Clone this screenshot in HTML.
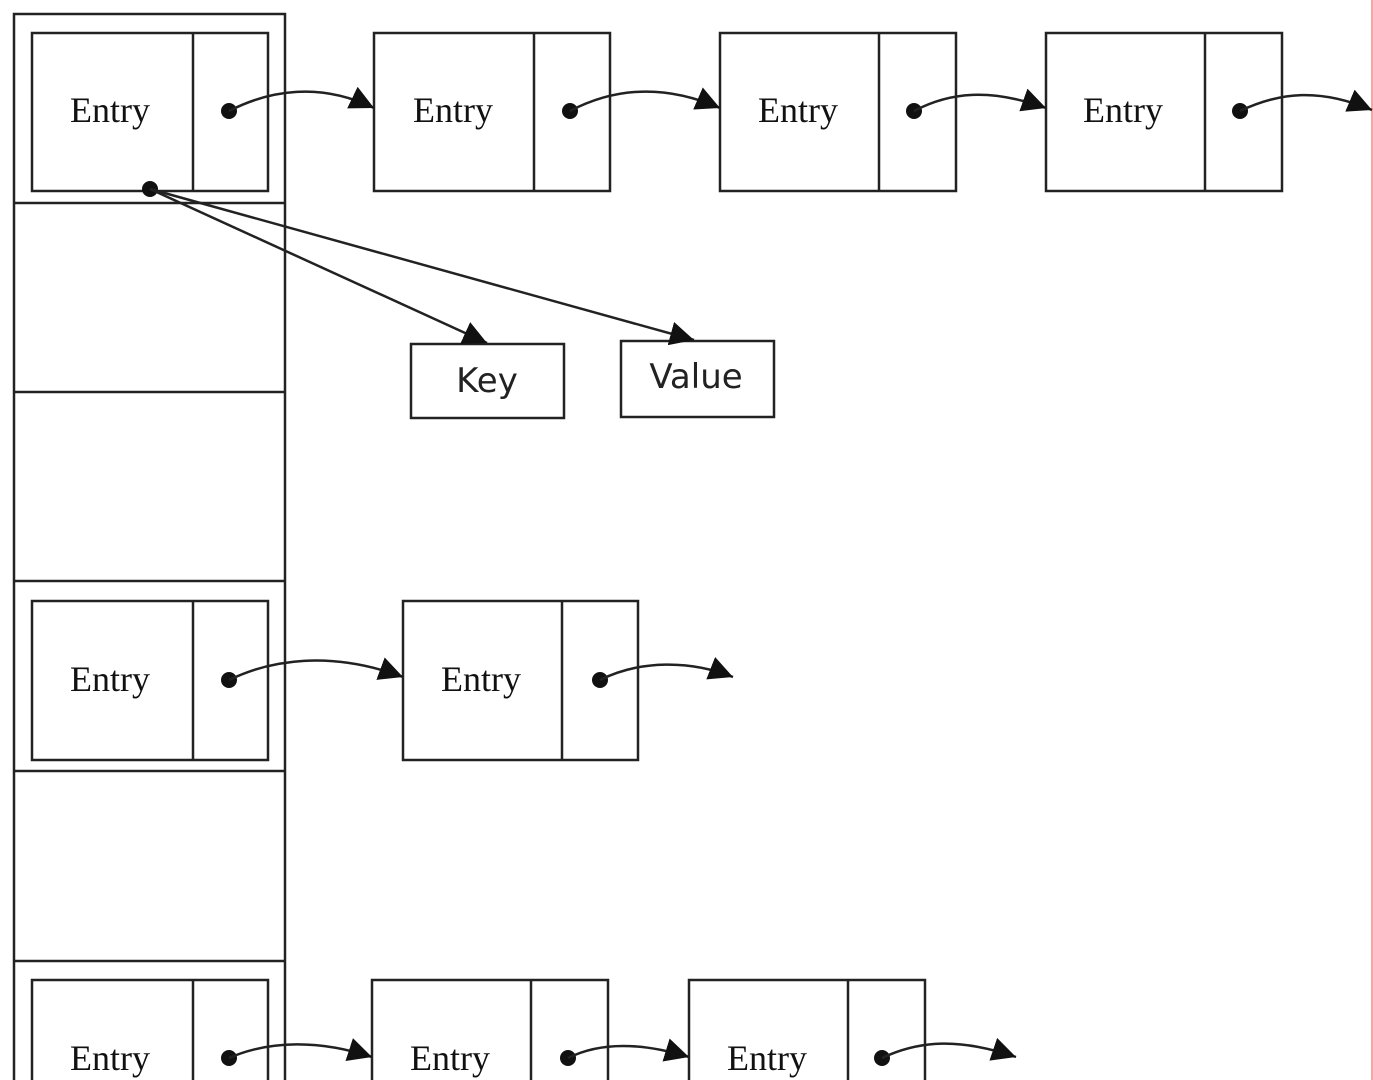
<!DOCTYPE html>
<html><head><meta charset="utf-8"><style>
html,body{margin:0;padding:0;background:#fff;}
svg{display:block}
.e{font-family:"Liberation Serif",serif;font-size:36px;}
.s{font-family:"DejaVu Sans","Liberation Sans",sans-serif;font-size:34px;}
</style></head><body>
<svg width="1373" height="1080" viewBox="0 0 1373 1080" xmlns="http://www.w3.org/2000/svg">
<defs>
<marker id="a" viewBox="0 0 10 10" refX="10" refY="5" markerWidth="9" markerHeight="9" markerUnits="userSpaceOnUse" orient="auto"><path d="M0,0 L10,5 L0,10 z" fill="#111"/></marker>
<marker id="b" viewBox="0 0 10 10" refX="10" refY="5" markerWidth="24" markerHeight="24" markerUnits="userSpaceOnUse" orient="auto"><path d="M0,0 L10,5 L0,10 z" fill="#111"/></marker>
</defs>
<g fill="none" stroke="#222" stroke-width="2.5">
<rect x="14" y="14" width="271" height="1080"/>
<line x1="14" y1="203" x2="285" y2="203"/>
<line x1="14" y1="392" x2="285" y2="392"/>
<line x1="14" y1="581" x2="285" y2="581"/>
<line x1="14" y1="771" x2="285" y2="771"/>
<line x1="14" y1="961" x2="285" y2="961"/>
</g>
<line x1="1372" y1="0" x2="1372" y2="1080" stroke="#e88" stroke-width="1.5"/>
<g fill="none" stroke="#222" stroke-width="2.5">
<rect x="32" y="33" width="236" height="158"/><line x1="193" y1="33" x2="193" y2="191"/>
<rect x="374" y="33" width="236" height="158"/><line x1="534" y1="33" x2="534" y2="191"/>
<rect x="720" y="33" width="236" height="158"/><line x1="879" y1="33" x2="879" y2="191"/>
<rect x="1046" y="33" width="236" height="158"/><line x1="1205" y1="33" x2="1205" y2="191"/>
<rect x="32" y="601" width="236" height="159"/><line x1="193" y1="601" x2="193" y2="760"/>
<rect x="403" y="601" width="235" height="159"/><line x1="562" y1="601" x2="562" y2="760"/>
<rect x="32" y="980" width="236" height="120"/><line x1="193" y1="980" x2="193" y2="1100"/>
<rect x="372" y="980" width="236" height="120"/><line x1="531" y1="980" x2="531" y2="1100"/>
<rect x="689" y="980" width="236" height="120"/><line x1="848" y1="980" x2="848" y2="1100"/>
<rect x="411" y="344" width="153" height="74"/>
<rect x="621" y="341" width="153" height="76"/>
</g>
<g fill="#111" class="e" text-anchor="middle">
<text x="110" y="122">Entry</text><text x="453" y="122">Entry</text><text x="798" y="122">Entry</text><text x="1123" y="122">Entry</text>
<text x="110" y="691">Entry</text><text x="481" y="691">Entry</text>
<text x="110" y="1070">Entry</text><text x="450" y="1070">Entry</text><text x="767" y="1070">Entry</text>
</g>
<g fill="#222" class="s" text-anchor="middle">
<text x="487" y="392">Key</text><text x="696" y="388">Value</text>
</g>
<g fill="#111">
<circle cx="229" cy="111" r="8"/><circle cx="570" cy="111" r="8"/><circle cx="914" cy="111" r="8"/><circle cx="1240" cy="111" r="8"/>
<circle cx="229" cy="680" r="8"/><circle cx="600" cy="680" r="8"/>
<circle cx="229" cy="1058" r="8"/><circle cx="568" cy="1058" r="8"/><circle cx="882" cy="1058" r="8"/>
<circle cx="150" cy="189" r="8"/>
</g>
<g fill="none" stroke="#222" stroke-width="2.5" marker-end="url(#b)">
<path d="M229,111 C270,90 320,82 374,108"/>
<path d="M570,111 C610,90 660,82 720,108"/>
<path d="M914,111 C950,92 990,88 1046,108"/>
<path d="M1240,111 C1280,92 1320,88 1372,110"/>
<path d="M229,680 C270,660 330,650 403,677"/>
<path d="M600,680 C640,660 690,660 733,677"/>
<path d="M229,1058 C270,1040 320,1040 372,1057"/>
<path d="M568,1058 C600,1042 640,1042 689,1057"/>
<path d="M882,1058 C920,1040 960,1038 1016,1057"/>
<path d="M150,189 L487,343"/>
<path d="M150,189 L694,340"/>
</g>
</svg>
</body></html>
